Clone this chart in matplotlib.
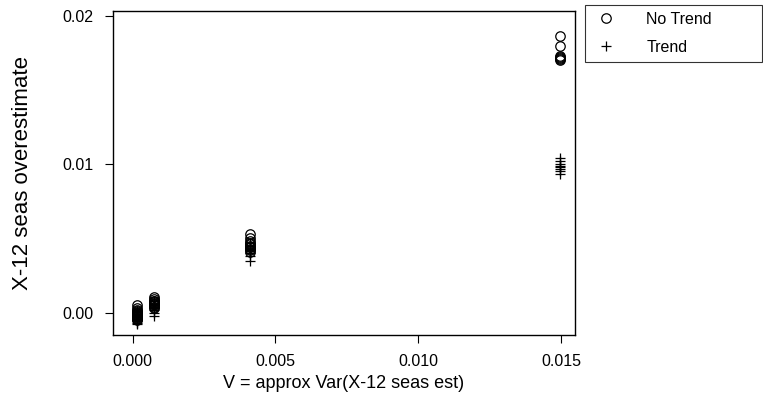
import matplotlib
matplotlib.use("Agg")
import matplotlib.pyplot as plt

plt.rcParams['font.family'] = ['Liberation Sans', 'DejaVu Sans']

# Approximate variance groups (x positions)
v_groups = [0.00015, 0.00075, 0.0041, 0.01495]

# "No Trend" overestimates per group (circles)
no_trend = [
    [0.0005, 0.0003, 0.0002, 0.0001, 0.0000, -0.00005, -0.0001, -0.00015, -0.0002,
     -0.00025, -0.0003, -0.00035, -0.0004, -0.0005, 0.00005, -0.00018],
    [0.00105, 0.0009, 0.0008, 0.00075, 0.0007, 0.00065, 0.0006, 0.00055, 0.0005,
     0.0004, 0.0003],
    [0.0053, 0.0050, 0.0048, 0.0047, 0.0046, 0.0045, 0.00445, 0.0044, 0.0043,
     0.0042, 0.0041],
    [0.01863, 0.01795, 0.01728, 0.01714, 0.0170, 0.0171, 0.0172],
]

# "Trend" overestimates per group (pluses)
trend = [
    [0.0001, -0.0001, -0.0002, -0.0003, -0.0004, -0.0005, -0.0006, -0.0007, -0.0008],
    [0.0008, 0.0006, 0.0005, 0.0004, 0.0003, 0.0002, 0.0000, -0.0002],
    [0.0047, 0.0045, 0.0043, 0.0042, 0.0040, 0.0038, 0.0035],
    [0.01039, 0.01018, 0.00998, 0.00978, 0.00957, 0.00937, 0.0099, 0.0097],
]

xticks = [0.000, 0.005, 0.010, 0.015]
xtick_labels = ["0.000", "0.005", "0.010", "0.015"]
yticks = [0.00, 0.01, 0.02]
ytick_labels = ["0.00", "0.01", "0.02"]

fig = plt.figure(figsize=(7.63, 4.04), dpi=100)
ax = fig.add_axes([113/763, 1-335/404, (575-113)/763, (335-11)/404])

xs_nt, ys_nt, xs_t, ys_t = [], [], [], []
for v, vals in zip(v_groups, no_trend):
    xs_nt += [v]*len(vals); ys_nt += vals
for v, vals in zip(v_groups, trend):
    xs_t += [v]*len(vals); ys_t += vals

ax.plot(xs_nt, ys_nt, linestyle='none', marker='o', markersize=6.8,
        markerfacecolor='none', markeredgecolor='black', markeredgewidth=0.9, label='No Trend')
ax.plot(xs_t, ys_t, linestyle='none', marker='+', markersize=7,
        color='black', markeredgewidth=0.9, label='Trend')

ax.set_xlim(-0.000685, 0.01549)
ax.set_ylim(-0.00151, 0.02032)
ax.set_xticks(xticks)
ax.set_xticklabels(xtick_labels)
ax.set_yticks(yticks)
ax.set_yticklabels(ytick_labels)
ax.tick_params(direction='out', length=6, width=0.8, labelsize=11.5, pad=8)
for s in ax.spines.values():
    s.set_linewidth(1.0)
ax.set_xlabel("V = approx Var(X-12 seas est)", fontsize=13, labelpad=4)
ax.set_ylabel("X-12 seas overestimate", fontsize=16)
ax.yaxis.set_label_coords((33-113)/462, 0.5)

fs = 11.5
em = fs * 100 / 72.0
leg = fig.legend(loc='upper left',
                 bbox_to_anchor=(585/763, 1-60/404, (762-585)/763, 55/404),
                 mode='expand', frameon=True, fancybox=False, edgecolor='black',
                 fontsize=fs, handlelength=28/em, borderpad=6.5/em,
                 labelspacing=13.5/em, handletextpad=27/em, borderaxespad=0)
leg.get_frame().set_linewidth(0.8)

fig.savefig("out.png", dpi=100)
